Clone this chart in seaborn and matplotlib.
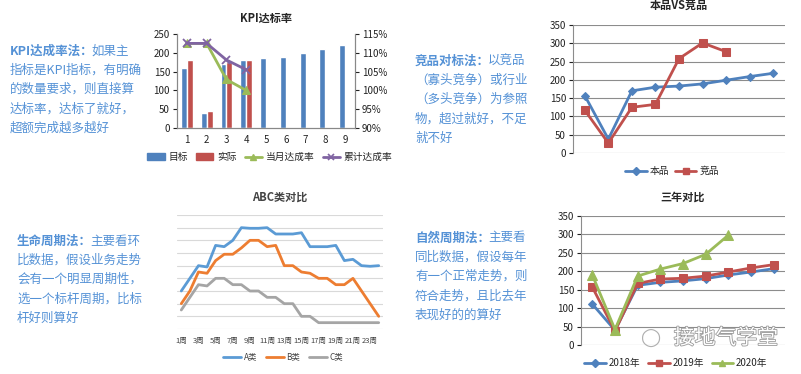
import numpy as np
import pandas as pd
import matplotlib
matplotlib.use("Agg")
import matplotlib.pyplot as plt
import matplotlib.patheffects as pe
from matplotlib.ticker import PercentFormatter
from matplotlib.patches import Patch
from matplotlib.lines import Line2D
import seaborn as sns

# KPI达标率
kpi_months = ['1', '2', '3', '4', '5', '6', '7', '8', '9']
kpi_target = [160, 40, 170, 180, 185, 190, 200, 210, 220]
kpi_actual = [180, 45, 175, 180]
kpi_month_rate = [1.125, 1.125, 1.029, 1.000]
kpi_cum_rate = [1.125, 1.125, 1.081, 1.055]

# 本品VS竞品
own_vals = [157, 38, 170, 180, 183, 189, 199, 209, 218]
rival_vals = [117, 27, 125, 133, 258, 301, 277]

# ABC类对比
weeks = list(range(1, 25))
week_labels = [f'{w}周' for w in range(1, 24, 2)]
abc_a = [3, 4, 5, 4.9, 6.6, 6.5, 7, 8, 7.95, 7.95, 8, 7.5, 7.5, 7.5, 7.6, 6.5,
         6.5, 6.5, 6.6, 5.4, 5.5, 5, 4.95, 5]
abc_b = [2, 3, 4.5, 4.4, 5.4, 5.9, 5.9, 6.4, 7, 7, 6.5, 6.6, 5, 5, 4.5, 4.4,
         4, 4, 3.5, 3.5, 4, 3, 2, 1]
abc_c = [1.5, 2.5, 3.5, 3.4, 4, 4, 3.5, 3.5, 3, 3, 2.5, 2.5, 2, 2, 1, 1,
         0.5, 0.5, 0.5, 0.5, 0.5, 0.5, 0.5, 0.5]

# 三年对比
y2018 = [111, 40, 162, 170, 174, 180, 190, 198, 207]
y2019 = [157, 38, 167, 179, 181, 187, 198, 209, 218]
y2020 = [190, 42, 187, 206, 221, 246, 298]

sns.set_style('white')
plt.rcParams['font.family'] = ['Noto Sans CJK SC', 'DejaVu Sans']
plt.rcParams['axes.unicode_minus'] = False

W, H = 801, 374
fig = plt.figure(figsize=(W / 100, H / 100), dpi=100)


def fx(x):
    return x / W


def fy(y):
    return 1 - y / H


def add_ax(l, t, r, b):
    return fig.add_axes([fx(l), fy(b), (r - l) / W, (b - t) / H])


BLUE, RED, GREEN, PURPLE = '#4F81BD', '#C0504D', '#9BBB59', '#8064A2'
TXT = '#5592D6'
GRID = '#8c8c8c'

# ---- text blocks ----
blocks = [
    (10, 51, 'KPI达成率法：', ['如果主', '指标是KPI指标，有明确', '的数量要求，则直接算',
                          '达标率，达标了就好，', '超额完成越多越好']),
    (415, 61, '竞品对标法：', ['以竞品', '（寡头竞争）或行业', '（多头竞争）为参照',
                         '物，超过就好，不足', '就不好']),
    (17, 241, '生命周期法：', ['主要看环', '比数据，假设业务走势', '会有一个明显周期性，',
                         '选一个标杆周期，比标', '杆好则算好']),
    (415, 238, '自然周期法：', ['主要看', '同比数据，假设每年', '有一个正常走势，则',
                         '符合走势，且比去年', '表现好的的算好']),
]
for x0, y0, head, lines in blocks:
    t = fig.text(fx(x0), fy(y0), head, fontsize=9, color=TXT, weight='bold', va='center')
    fig.add_artist(matplotlib.text.Annotation(lines[0], xy=(1, 0.5), xycoords=t,
                                              xytext=(-1.5, 0), textcoords='offset points',
                                              fontsize=9, color=TXT, va='center'))
    for i, ln in enumerate(lines[1:], start=1):
        fig.text(fx(x0), fy(y0 + i * 19.3), ln, fontsize=9, color=TXT, va='center')

# ---- KPI达标率 ----
ax = add_ax(177, 34, 355, 128)
df_kpi = pd.DataFrame({
    '月': kpi_months + kpi_months[:len(kpi_actual)],
    '值': kpi_target + kpi_actual,
    '类别': ['目标'] * len(kpi_target) + ['实际'] * len(kpi_actual),
})
sns.barplot(data=df_kpi, x='月', y='值', hue='类别', hue_order=['目标', '实际'],
            palette={'目标': BLUE, '实际': RED}, width=0.6, errorbar=None,
            ax=ax, legend=False, saturation=1)
ax.set_ylim(0, 250)
ax.set_yticks(range(0, 251, 50))
ax.set_xlabel('')
ax.set_ylabel('')
ax2 = ax.twinx()
sns.lineplot(x=list(range(len(kpi_month_rate))), y=kpi_month_rate, ax=ax2, color=GREEN,
             linewidth=2, marker='^', markersize=6, markeredgecolor=GREEN)
sns.lineplot(x=list(range(len(kpi_cum_rate))), y=kpi_cum_rate, ax=ax2, color=PURPLE,
             linewidth=2, marker='x', markersize=6, markeredgecolor=PURPLE, markeredgewidth=1.3)
ax2.set_ylim(0.90, 1.15)
ax2.set_yticks(np.arange(0.90, 1.151, 0.05))
ax2.yaxis.set_major_formatter(PercentFormatter(1.0, decimals=0))
ax.set_xlim(-0.5, 8.5)
for a in (ax, ax2):
    a.tick_params(labelsize=7, length=3, pad=2, colors='#222222')
    for s in a.spines.values():
        s.set_color('#888888')
        s.set_linewidth(0.8)
    a.spines['top'].set_visible(False)
ax.tick_params(axis='x', length=0, pad=5)
ax.set_title('KPI达标率', fontsize=8, weight='bold', pad=9)
kpi_handles = [Patch(color=BLUE), Patch(color=RED),
               Line2D([], [], color=GREEN, lw=2, marker='^', ms=5),
               Line2D([], [], color=PURPLE, lw=2, marker='x', ms=5, mew=1.2)]
ax.legend(kpi_handles, ['目标', '实际', '当月达成率', '累计达成率'], loc='center',
          bbox_to_anchor=(fx(270), fy(157)), bbox_transform=fig.transFigure, ncol=4,
          frameon=False, fontsize=7, handlelength=1.8, columnspacing=0.8, handletextpad=0.4)


def line_chart_style(a, title):
    a.set_ylim(0, 350)
    a.set_yticks(range(0, 351, 50))
    a.set_xlim(-0.5, 8.5)
    a.set_xticks([])
    a.grid(axis='y', color=GRID, linewidth=0.8)
    for s in ('top', 'right', 'bottom'):
        a.spines[s].set_visible(False)
    a.spines['left'].set_color(GRID)
    a.spines['left'].set_linewidth(0.8)
    a.tick_params(axis='y', labelsize=7, length=3, pad=2, colors='#222222', left=True)
    a.set_title(title, fontsize=8, weight='bold', pad=11)


# ---- 本品VS竞品 ----
ax3 = add_ax(573, 25, 785, 153)
sns.lineplot(x=list(range(len(own_vals))), y=own_vals, ax=ax3, color=BLUE, linewidth=2,
             marker='D', markersize=4.5, markeredgecolor=BLUE)
sns.lineplot(x=list(range(len(rival_vals))), y=rival_vals, ax=ax3, color=RED, linewidth=2,
             marker='s', markersize=6, markeredgecolor=RED)
line_chart_style(ax3, '本品VS竞品')
ax3.legend([Line2D([], [], color=BLUE, lw=2, marker='D', ms=4),
            Line2D([], [], color=RED, lw=2, marker='s', ms=5)], ['本品', '竞品'],
           loc='center', bbox_to_anchor=(fx(672), fy(171)), bbox_transform=fig.transFigure,
           ncol=2, frameon=False, fontsize=7, handlelength=2.2, columnspacing=0.6,
           handletextpad=0.3)

# ---- 三年对比 ----
ax4 = add_ax(581, 216, 785, 345)
sns.lineplot(x=list(range(len(y2018))), y=y2018, ax=ax4, color=BLUE, linewidth=2,
             marker='D', markersize=4.5, markeredgecolor=BLUE)
sns.lineplot(x=list(range(len(y2019))), y=y2019, ax=ax4, color=RED, linewidth=2,
             marker='s', markersize=6, markeredgecolor=RED)
sns.lineplot(x=list(range(len(y2020))), y=y2020, ax=ax4, color=GREEN, linewidth=2,
             marker='^', markersize=6.5, markeredgecolor=GREEN)
line_chart_style(ax4, '三年对比')
ax4.legend([Line2D([], [], color=BLUE, lw=2, marker='D', ms=4),
            Line2D([], [], color=RED, lw=2, marker='s', ms=5),
            Line2D([], [], color=GREEN, lw=2, marker='^', ms=5)],
           ['2018年', '2019年', '2020年'],
           loc='center', bbox_to_anchor=(fx(676), fy(363)), bbox_transform=fig.transFigure,
           ncol=3, frameon=False, fontsize=7, handlelength=2.2, columnspacing=0.8,
           handletextpad=0.3)
fig.text(fx(726), fy(338), '接地气学堂', fontsize=15, color='white', ha='center', va='center',
         path_effects=[pe.withStroke(linewidth=1.2, foreground='#9a9a9a')])
fig.text(fx(650), fy(338), '◯', fontsize=13, color='#b0b0b0', ha='center', va='center',
         family=['DejaVu Sans'])

# ---- ABC类对比 ----
ax5 = add_ax(177, 215, 383, 329)
for vals, col, name in ((abc_a, '#5B9BD5', 'A类'), (abc_b, '#ED7D31', 'B类'),
                        (abc_c, '#A5A5A5', 'C类')):
    sns.lineplot(x=weeks, y=vals, ax=ax5, color=col, linewidth=2, label=name)
ax5.set_xlim(0.5, 24.5)
ax5.set_ylim(0, 9)
ax5.set_yticks(range(0, 10))
ax5.set_yticklabels([])
ax5.set_xticks(range(1, 24, 2))
ax5.set_xticklabels(week_labels)
ax5.grid(axis='y', color='#d9d9d9', linewidth=0.8)
for s in ax5.spines.values():
    s.set_visible(False)
ax5.tick_params(axis='y', length=0)
ax5.tick_params(axis='x', length=0, labelsize=5.5, pad=6, colors='#444444')
ax5.set_title('ABC类对比', fontsize=8, weight='bold', pad=10, color='#444444')
ax5.legend(loc='center', bbox_to_anchor=(fx(283), fy(357)), bbox_transform=fig.transFigure,
           ncol=3, frameon=False, fontsize=6, handlelength=2.2, columnspacing=1.0,
           handletextpad=0.3, labelcolor='#444444')

fig.savefig('out.png', dpi=100)
